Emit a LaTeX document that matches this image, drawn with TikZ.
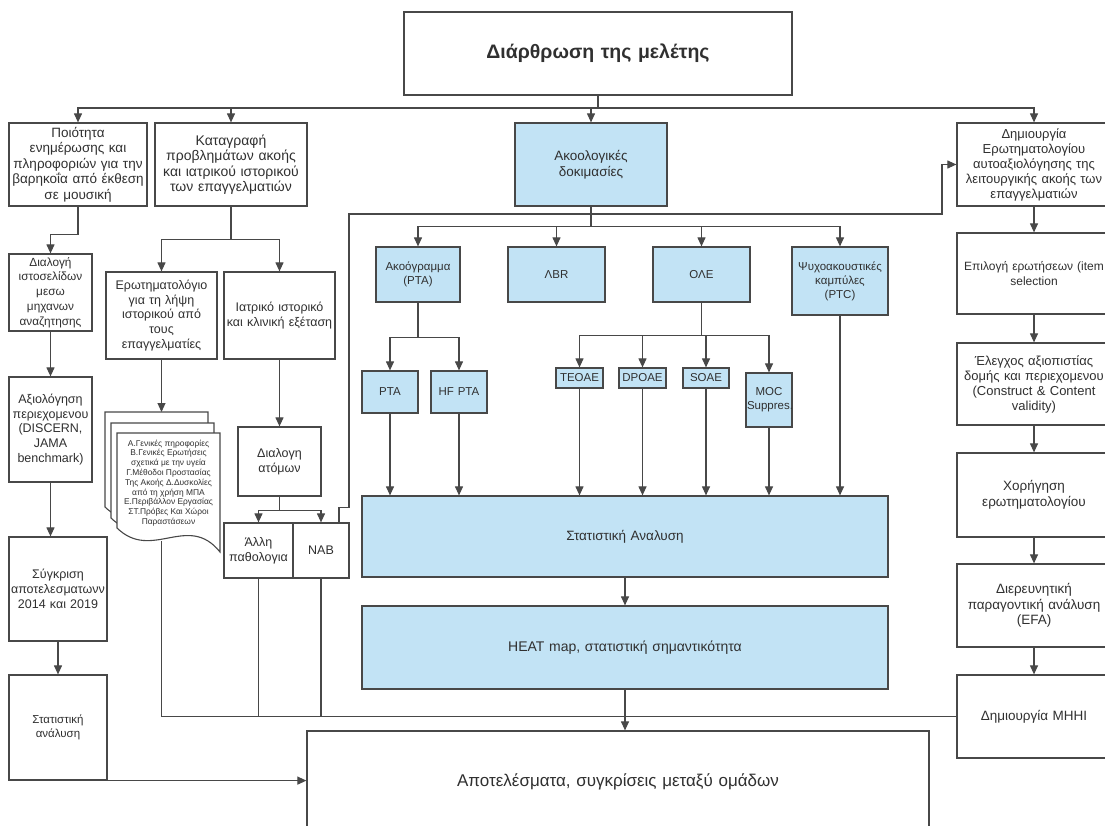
\documentclass[tikz,border=0pt]{standalone}
\usepackage{fontspec}
\setmainfont{Liberation Sans}
\usepackage{tikz}
\usetikzlibrary{arrows.meta, positioning, calc}

\definecolor{boxblue}{RGB}{194,227,245}
\definecolor{linegray}{RGB}{72,72,72}
\definecolor{textgray}{RGB}{48,48,48}

\begin{document}
\begin{tikzpicture}[
      x=1pt, y=-1pt,
      box/.style={draw=linegray, line width=1.2pt, fill=white, text=textgray,
        align=center, inner xsep=2pt, inner ysep=1pt},
      bluebox/.style={box, fill=boxblue},
      ftitle/.style={font=\fontsize{19.5}{23}\selectfont\bfseries},
      flarge/.style={font=\fontsize{17}{20}\selectfont},
      fnormal/.style={font=\fontsize{13.5}{15.5}\selectfont},
      fmid/.style={font=\fontsize{12.5}{14.8}\selectfont},
      fright/.style={font=\fontsize{13}{15}\selectfont},
      fsmall/.style={font=\fontsize{11.5}{14}\selectfont},
      fdoc/.style={font=\fontsize{8.4}{9.8}\selectfont},
      link/.style={draw=linegray, line width=1.1pt},
      bus/.style={link, line width=1.8pt},
      connection/.style={link, -{Triangle[length=9pt, width=8pt]}}
  ]

  \useasboundingbox (0,0) rectangle (1105,826);

  % top
  \node[box, ftitle, text width=384pt, minimum height=83pt] (top) at (598,53.5) {Διάρθρωση της μελέτης};
  \coordinate (hub) at (598,108);

  % first row
  \node[box, fnormal, text width=134pt, minimum height=83pt] (qual) at (78,164.5)
    {Ποιότητα\\ενημέρωσης και\\πληροφοριών για την\\βαρηκοΐα από έκθεση\\σε μουσική};
  \node[box, font=\fontsize{14}{15.5}\selectfont, text width=148pt, minimum height=83pt] (hist) at (231,164.5)
    {Καταγραφή\\προβλημάτων ακοής\\και  ιατρικού ιστορικού\\των επαγγελματιών};
  \node[bluebox, fnormal, text width=148pt, minimum height=83pt] (audio) at (591,164.5)
    {Ακοολογικές\\δοκιμασίες};
  \node[box, fright, text width=150pt, minimum height=83pt] (quest) at (1034,164.5)
    {Δημιουργία\\Ερωτηματολογίου\\αυτοαξιολόγησης της\\λειτουργικής ακοής των\\επαγγελματιών};

  % left column
  \node[box, font=\fontsize{11.8}{14.8}\selectfont, text width=79pt, minimum height=77pt] (web) at (50.5,292.5)
    {Διαλογή\\ιστοσελίδων\\μεσω\\μηχανων\\αναζητησης};
  \node[box, fmid, text width=79pt, minimum height=105pt] (eval) at (50.5,429.5)
    {Αξιολόγηση\\περιεχομενου\\(DISCERN,\\JAMA\\benchmark)};
  \node[box, fmid, text width=94pt, minimum height=104pt] (comp) at (58,589)
    {Σύγκριση\\αποτελεσματωνν\\2014 και 2019};
  \node[box, fsmall, text width=94pt, minimum height=105pt] (stats) at (58,727.5)
    {Στατιστική\\ανάλυση};

  % history branch
  \node[box, fmid, text width=107pt, minimum height=87pt] (form) at (161.5,315.5)
    {Ερωτηματολόγιο\\για τη λήψη\\ιστορικού από\\τους\\επαγγελματίες};
  \node[box, fmid, text width=107pt, minimum height=87pt] (clin) at (279.5,315.5)
    {Ιατρικό ιστορικό\\και κλινική εξέταση};
  \node[box, fmid, text width=79pt, minimum height=69pt] (select) at (279.5,461.5)
    {Διαλογη\\ατόμων};
  \node[box, fmid, text width=65pt, minimum height=55pt] (other) at (258.5,550.5)
    {Άλλη\\παθολογια};
  \node[box, fmid, text width=52pt, minimum height=55pt] (nab) at (321,550.5) {NAB};

  % questionnaire sheets
  \foreach \dx/\dy in {-12/-21, -6/-10, 0/0} {
    \draw[draw=linegray, line width=1.1pt, fill=white, shift={(\dx,\dy)}]
      (117,433) -- (220,433) -- (220,552) .. controls (188,512) and (152,562) .. (117,528) -- cycle;
  }
  \node[text=textgray, fdoc, align=center] (doc) at (168.5,483)
    {Α.Γενικές πηροφορίες\\Β.Γενικές Ερωτήσεις\\σχετικά με την υγεία\\Γ.Μέθοδοι Προστασίας\\Της Ακοής  Δ.Δυσκολίες\\από τη  χρήση  ΜΠΑ\\Ε.Περιβάλλον Εργασίας\\ΣΤ.Πρόβες Και Χώροι\\Παραστάσεων};
  \coordinate (doctop) at (161.5,412);
  \coordinate (docbot) at (161.5,541);

  % audiological tests
  \node[bluebox, fsmall, text width=80pt, minimum height=55pt] (audg) at (418,274.5) {Ακοόγραμμα\\(PTA)};
  \node[bluebox, fsmall, text width=93pt, minimum height=55pt] (abr) at (556.5,274.5) {ΛBR};
  \node[bluebox, fsmall, text width=93pt, minimum height=55pt] (oae) at (701.5,274.5) {ΟΛΕ};
  \node[bluebox, fsmall, text width=92pt, minimum height=68pt] (ptc) at (840,281)
    {Ψυχοακουστικές\\καμπύλες\\(PTC)};

  \node[bluebox, fsmall, text width=52pt, minimum height=42pt] (pta) at (390,392) {PTA};
  \node[bluebox, fsmall, text width=52pt, minimum height=42pt] (hfpta) at (459,392) {HF PTA};
  \node[bluebox, fsmall, text width=45pt, minimum height=20pt, inner xsep=1pt] (teoae) at (579.5,378) {TEOAE};
  \node[bluebox, fsmall, text width=45pt, minimum height=20pt, inner xsep=1pt] (dpoae) at (642.5,378) {DPOAE};
  \node[bluebox, fsmall, text width=44pt, minimum height=20pt, inner xsep=1pt] (soae) at (706,378) {SOAE};
  \node[bluebox, fsmall, text width=44pt, minimum height=54pt, inner xsep=1pt] (moc) at (769,400) {MOC\\Suppres.};

  \node[bluebox, fnormal, text width=522pt, minimum height=81pt] (anal) at (625,536.5) {Στατιστική Αναλυση};
  \node[bluebox, font=\fontsize{14}{16}\selectfont, text width=522pt, minimum height=83pt] (heat) at (625,647.5)
    {HEAT map, στατιστική σημαντικότητα};

  % right column
  \node[box, font=\fontsize{12}{15}\selectfont, text width=150pt, minimum height=81pt] (items) at (1034,273.5)
    {\mbox{Επιλογή ερωτήσεων (item}\\selection};
  \node[box, fright, text width=150pt, minimum height=82pt] (valid) at (1034,384)
    {Έλεγχος αξιοπιστίας\\δομής και περιεχομενου\\(Construct  \& Content\\validity)};
  \node[box, fnormal, text width=150pt, minimum height=84pt] (admin) at (1034,495)
    {Χορήγηση\\ερωτηματολογίου};
  \node[box, fnormal, text width=150pt, minimum height=83pt] (efa) at (1034,605.5)
    {Διερευνητική\\παραγοντική ανάλυση\\(EFA)};
  \node[box, fnormal, text width=150pt, minimum height=83pt] (mhhi) at (1034,716.5) {Δημιουργία MHHI};

  % results
  \node[box, flarge, text width=618pt, minimum height=101pt] (res) at (618,781.5)
    {Αποτελέσματα, συγκρίσεις μεταξύ ομάδων};

  % connectors from the top
  \draw[link] (top) -- (hub);
  \foreach \n in {qual,hist,audio,quest} {
    \draw[connection] (hub) -| (\n.north);
  }

  % left column
  \draw[connection] (qual.south) -- ++(0,28) -| (web.north);
  \draw[connection] (web) -- (eval);
  \draw[connection] (eval.south) -- (eval.south |- comp.north);
  \draw[connection] (comp) -- (stats);
  \draw[connection] (stats.south) -- (stats.south -| res.west);

  % history branch
  \draw[link] (hist.south) -- ++(0,33) coordinate (histb);
  \foreach \n in {form,clin} {
    \draw[connection] (histb) -| (\n.north);
  }
  \draw[connection] (form.south) -- (doctop);
  \draw[connection] (clin) -- (select);
  \draw[link] (select.south) -- ++(0,14) coordinate (selb);
  \foreach \n in {other,nab} {
    \draw[connection] (selb) -| (\n.north);
  }
  \draw[connection] ([xshift=18pt]nab.north) -- ++(0,-15) -- ++(10,0) |- (942,214) |- (quest.west);

  % collecting line
  \draw[bus] (docbot) |- (mhhi.west);
  \foreach \n in {other,nab} {
    \draw[link] (\n.south) -- (\n.south |- mhhi.west);
  }

  % audiological tree
  \draw[link] (audio.south) -- ++(0,20) coordinate (audb);
  \foreach \n in {audg,abr,oae,ptc} {
    \draw[connection] (audb) -| (\n.north);
  }
  \draw[link] (audg.south) -- ++(0,35) coordinate (audgb);
  \foreach \n in {pta,hfpta} {
    \draw[connection] (audgb) -| (\n.north);
  }
  \draw[link] (oae.south) -- ++(0,33) coordinate (oaeb);
  \foreach \n in {teoae,dpoae,soae,moc} {
    \draw[connection] (oaeb) -| (\n.north);
  }
  \foreach \n in {pta,hfpta,teoae,dpoae,soae,moc,ptc} {
    \draw[connection] (\n.south) -- (\n.south |- anal.north);
  }
  \draw[connection] (anal) -- (heat);
  \draw[connection] (heat.south) -- (heat.south |- res.north);

  % right column
  \foreach \a/\b in {quest/items,items/valid,valid/admin,admin/efa,efa/mhhi} {
    \draw[connection] (\a) -- (\b);
  }
  \end{tikzpicture}
\end{document}
